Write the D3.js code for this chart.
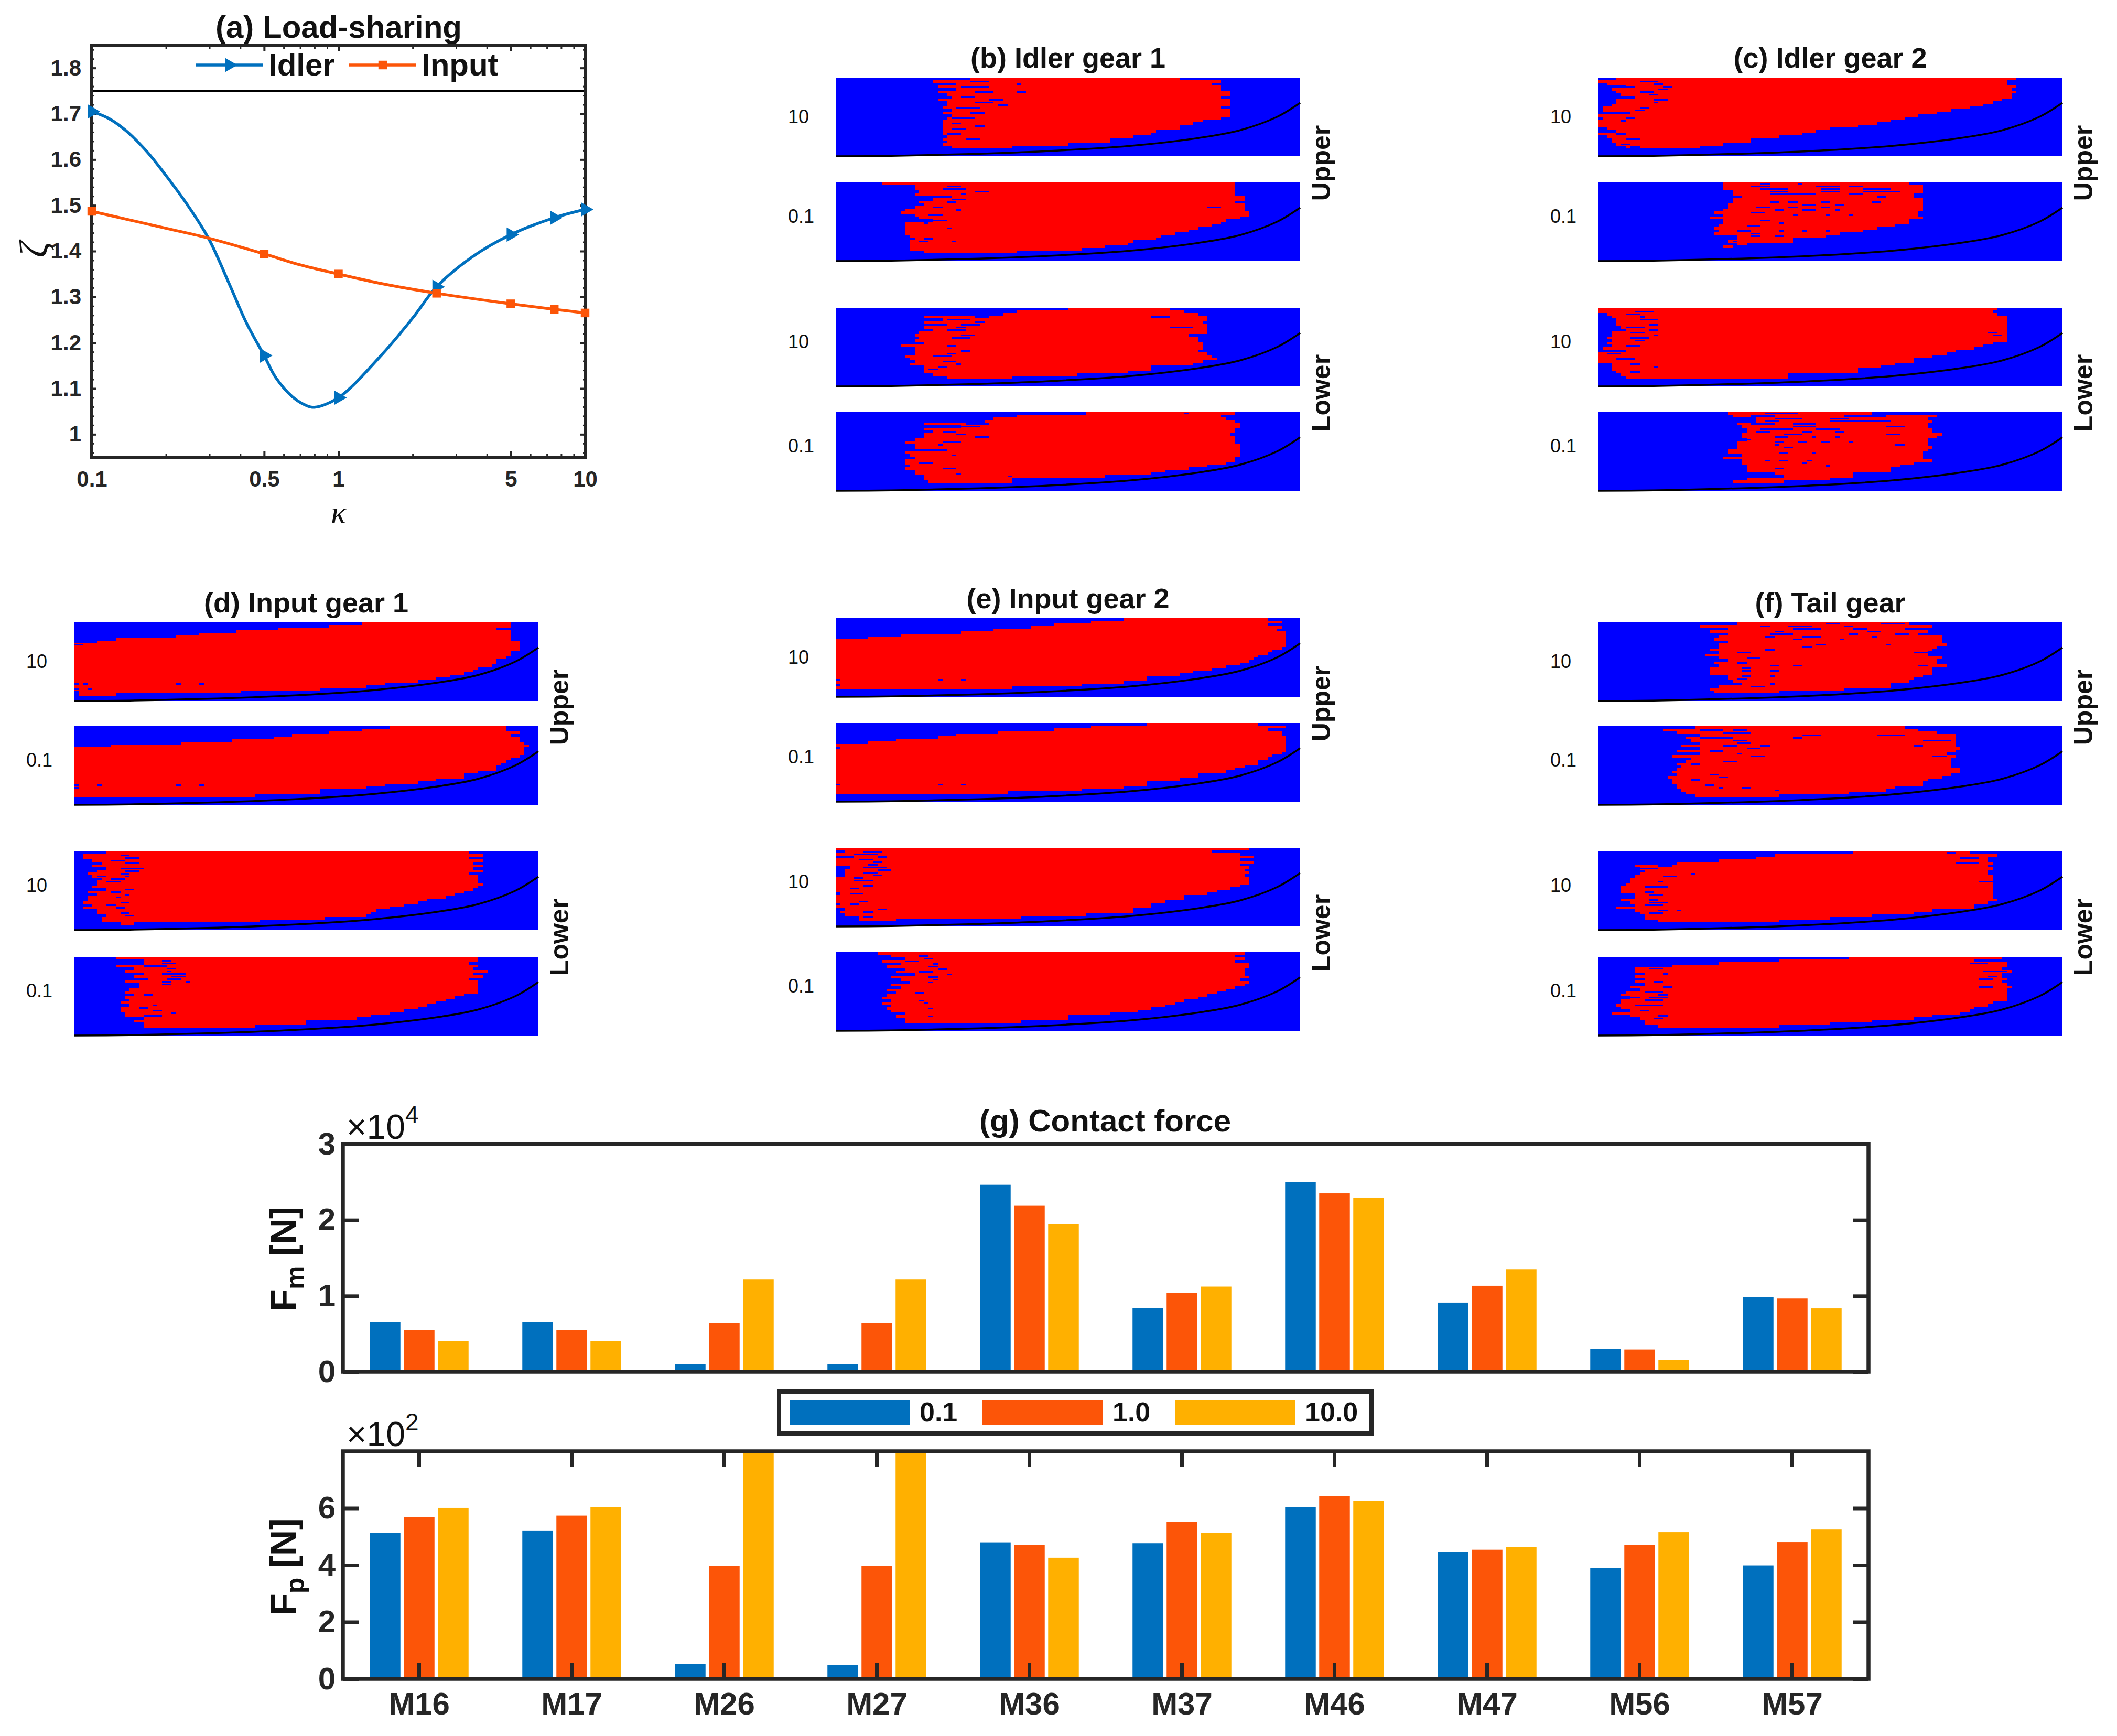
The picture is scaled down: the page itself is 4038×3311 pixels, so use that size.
<!DOCTYPE html>
<html>
<head>
<meta charset="utf-8">
<script src="https://cdn.jsdelivr.net/npm/d3@7"></script>
<style>
  body { margin: 0; background: #fff; }
  text { font-family: "Liberation Sans", Arial, sans-serif; }
</style>
</head>
<body>
<svg id="chart" width="4038" height="3311"></svg>
<script>
// (a) load sharing
const kappaMarks = [0.1, 0.5, 1, 2.5, 5, 7.5, 10];
const kappaLabels = [0.1, 0.5, 1, 5, 10];
const idlerMarks = [1.705, 1.172, 1.08, 1.322, 1.436, 1.473, 1.491];
const inputMarks = [1.487, 1.394, 1.35, 1.308, 1.285, 1.273, 1.265];
// points, denser than the markers
const idlerCurveK = [0.1, 0.117, 0.137, 0.167, 0.2, 0.245, 0.298, 0.362, 0.424, 0.5, 0.557, 0.651, 0.74, 0.8, 1, 1.5, 2, 2.5, 3.5, 5, 7.5, 10];
const idlerCurveZ = [1.705, 1.69, 1.664, 1.618, 1.565, 1.5, 1.427, 1.327, 1.243, 1.172, 1.124, 1.082, 1.063, 1.059, 1.08, 1.174, 1.254, 1.322, 1.388, 1.436, 1.473, 1.491];
const inputCurveK = [0.1, 0.2, 0.3, 0.5, 0.7, 1, 1.5, 2.5, 5, 7.5, 10];
const inputCurveZ = [1.487, 1.45, 1.428, 1.394, 1.37, 1.35, 1.329, 1.308, 1.285, 1.273, 1.265];
const limitZ = 1.75;

// (b)-(f) contact maps: red span of each row in % of tooth length, top row first
const b1Start = [29,21,26,22,26,22,24,25,22,24,24,23,25,23,25,24,23,23,23,23,23,23,24,23,24,23,25];
const b1End = [74,83,81,83,83,85,85,83,85,85,85,83,85,85,85,83,79,77,74,74,69,68,64,59,59,50,38];
const b1Holes = [[1,29,33],[3,27,33],[5,30,34],[7,27,30],[8,33,36],[9,30,34],[10,35,37],[11,26,31],[13,29,32],[15,25,30],[17,25,27],[18,30,32],[19,25,28],[21,24,27],[23,28,31],[2,39,40],[5,39,41]];
const b2Start = [10,17,17,18,17,19,21,18,19,17,15,14,17,18,21,15,15,15,15,15,16,17,16,16,16,16,19];
const b2End = [86,86,86,86,86,88,88,86,88,88,88,89,89,87,84,83,81,78,76,73,70,69,64,63,58,53,39];
const b2Holes = [[1,24,27],[2,23,28],[3,30,33],[4,27,28],[5,19,25],[6,25,28],[7,24,26],[9,21,23],[9,80,83],[10,26,27],[12,20,23],[14,21,24],[15,19,20],[17,24,25],[21,19,21],[22,18,20],[22,25,26]];
const b3Start = [50,39,36,19,23,19,24,19,21,18,17,18,17,19,14,17,17,17,15,16,17,16,19,19,19,21,24];
const b3End = [72,75,78,80,80,79,80,80,80,80,76,78,78,79,79,79,78,80,81,82,79,77,68,68,63,52,38];
const b3Holes = [[3,30,33],[3,68,72],[4,24,29],[5,30,32],[6,27,31],[7,26,28],[7,72,77],[8,24,28],[10,27,30],[11,25,29],[12,78,79],[14,24,26],[16,27,29],[17,24,26],[18,21,25],[20,23,26],[21,26,27],[22,22,24],[23,20,22]];
const b4Start = [54,39,34,32,19,27,19,21,19,19,17,15,17,17,19,15,16,17,15,15,16,15,17,17,19,19,20];
const b4End = [86,83,84,86,87,87,86,86,85,86,86,86,87,87,87,87,87,86,86,84,80,76,71,68,58,38,38];
const b4Holes = [[0,75,76],[3,26,30],[4,28,33],[5,27,31],[7,23,26],[8,26,28],[9,30,33],[11,23,27],[12,22,23],[14,19,24],[16,25,26],[19,18,21],[21,23,26],[23,26,27],[24,37,38]];
const c1Start = [4,0,2,6,3,4,5,8,4,4,3,1,1,4,0,1,0,0,0,2,4,0,2,3,3,4,6];
const c1End = [90,88,88,90,89,90,89,89,87,85,83,80,76,73,69,66,63,60,56,50,47,44,39,33,33,27,22];
const c1Holes = [[1,9,13],[2,12,14],[3,5,8],[3,14,16],[4,13,15],[5,9,12],[6,11,13],[8,12,15],[9,12,13],[11,9,11],[12,8,10],[13,4,7],[15,6,8],[16,5,6],[21,4,6],[23,6,9],[25,5,7],[26,7,9]];
const c2Start = [27,27,27,29,29,31,29,29,28,28,27,25,27,24,27,27,26,25,26,25,30,30,28,30,27];
const c2End = [67,70,70,70,68,68,70,70,70,70,70,69,69,70,67,67,64,60,57,52,49,42,42,32,29];
const c2Holes = [[0,35,37],[0,43,44],[1,33,37],[1,47,52],[1,54,57],[2,35,41],[2,48,52],[2,57,63],[3,37,41],[3,48,52],[3,57,65],[4,37,47],[4,54,57],[5,60,62],[7,37,39],[7,41,43],[7,48,50],[7,59,61],[8,44,47],[8,51,53],[9,34,37],[9,41,43],[9,48,50],[10,38,40],[10,44,47],[10,51,52],[11,33,36],[12,42,43],[12,49,50],[12,54,55],[14,35,37],[15,39,40],[16,32,35],[18,30,33],[18,39,40],[18,44,45],[18,49,50],[19,33,35],[20,33,35],[20,38,40],[22,29,30]];
const c3Start = [0,0,2,3,4,4,4,5,6,3,3,2,3,2,3,1,2,0,0,0,0,3,3,3,4,5,6];
const c3End = [86,85,86,88,88,88,88,88,88,88,88,88,88,85,83,81,77,75,72,68,68,64,61,56,56,41,41];
const c3Holes = [[1,8,12],[2,6,9],[3,9,10],[4,9,13],[6,11,13],[7,6,10],[8,11,13],[9,7,10],[10,12,13],[11,7,11],[12,8,10],[14,6,9],[16,1,6],[17,2,5],[19,4,8],[21,7,9],[22,12,13],[24,7,9],[9,84,86],[10,85,87]];
const c4Start = [28,29,34,34,30,31,32,32,31,31,32,30,30,30,28,28,31,27,31,31,32,32,32,38,40,32,29];
const c4End = [59,73,71,72,71,71,72,72,74,73,71,71,71,72,71,70,70,70,72,68,65,63,63,55,55,50,40];
const c4Holes = [[0,36,43],[1,33,38],[1,53,62],[2,38,44],[2,50,54],[3,36,39],[3,50,63],[4,33,38],[4,42,47],[5,62,66],[5,42,47],[6,35,42],[6,47,52],[7,34,37],[7,44,46],[7,51,53],[8,40,44],[8,62,65],[9,38,41],[9,46,47],[9,51,52],[10,30,33],[11,38,40],[11,43,45],[11,48,50],[11,54,55],[12,38,39],[12,64,66],[13,40,42],[15,39,41],[15,46,47],[18,36,37],[18,39,41],[18,45,46],[19,44,45],[20,49,50],[21,38,40]];
const d1Start = [62,55,44,35,27,22,9,5,0,0,0,0,0,0,0,0,0,0,0,0,0,0,0,0,0,0,1,1];
const d1End = [94,94,91,94,94,94,94,96,96,96,96,94,94,93,91,91,90,87,86,84,81,78,74,67,63,53,36,9];
const d1Holes = [[8,0,2],[23,0,1],[23,2,3],[23,22,23],[23,27,28],[25,0,1],[25,3,4]];
const d2Start = [68,62,55,47,43,34,23,8,0,0,0,0,0,0,0,0,0,0,0,0,0,0,0,0,0,0,0];
const d2End = [93,95,96,94,96,96,97,98,97,97,97,96,94,93,92,91,91,87,84,84,78,74,67,63,53,53,39];
const d2Holes = [[22,0,1],[22,5,6],[22,22,23],[22,27,28],[23,0,1],[1,93,95]];
const d3Start = [7,2,2,4,6,4,7,5,3,4,6,5,5,4,7,3,5,3,3,2,4,2,5,5,7,6,6,10];
const d3End = [85,88,85,88,86,88,86,88,85,87,87,87,88,87,86,84,82,80,76,74,71,68,65,64,63,54,40,13];
const d3Holes = [[1,10,12],[2,11,14],[3,8,11],[4,11,14],[6,10,15],[7,11,14],[8,10,12],[9,5,7],[9,11,12],[10,8,11],[11,7,10],[14,11,13],[15,8,10],[16,11,12],[17,9,10],[19,10,12],[20,7,9],[21,9,11],[23,10,12],[24,11,13]];
const d4Start = [9,15,15,9,13,11,15,13,16,11,14,14,12,11,13,11,12,10,12,10,10,11,11,15,13,15,15];
const d4End = [87,87,85,87,86,89,86,88,85,87,87,87,87,87,84,82,80,78,76,74,71,68,64,61,50,50,39];
const d4Holes = [[1,19,21],[2,19,22],[3,15,20],[4,20,22],[5,20,21],[6,19,24],[7,21,24],[8,20,23],[9,19,21],[9,24,25],[10,19,21],[14,15,17],[18,17,18],[19,14,16],[20,17,19],[21,21,22],[22,15,19]];
const e1Start = [62,55,47,42,34,27,14,7,0,0,0,0,0,0,0,0,0,0,0,0,0,0,0,0,0,0,0];
const e1End = [93,96,93,96,95,97,97,97,97,97,97,96,94,93,91,90,89,87,84,81,77,74,67,67,62,53,38];
const e1Holes = [[23,0,1],[23,22,23],[23,27,28],[25,0,1],[2,93,95]];
const e2Start = [67,55,47,35,26,22,13,7,0,0,0,0,0,0,0,0,0,0,0,0,0,0,0,0,0,0,0];
const e2End = [91,97,93,96,96,97,97,97,97,97,97,96,94,93,91,91,88,86,84,78,78,74,67,67,62,53,37];
const e2Holes = [[23,0,1],[23,22,23],[23,27,28],[9,0,1]];
const e3Start = [0,2,0,4,0,0,0,3,2,2,2,0,0,0,0,0,0,1,0,0,0,1,0,2,1,2,5,5];
const e3End = [89,81,87,90,87,90,87,89,88,89,88,89,89,89,87,85,82,80,75,75,71,68,68,64,64,54,40,13];
const e3Holes = [[1,6,10],[2,4,9],[3,9,11],[4,5,8],[5,8,10],[6,7,9],[7,6,11],[8,9,12],[9,6,9],[10,8,10],[11,4,6],[12,4,8],[14,6,8],[15,3,5],[17,3,6],[20,5,7],[21,3,5],[23,9,11],[24,6,8],[26,6,8]];
const e4Start = [9,12,15,10,14,11,15,13,17,12,14,16,12,14,11,13,11,10,12,10,12,11,12,15,13,15,15];
const e4End = [88,86,88,86,89,89,88,88,88,89,87,89,88,86,84,82,80,78,75,73,71,68,65,59,50,50,40];
const e4Holes = [[1,18,20],[2,19,21],[3,15,18],[4,21,22],[5,20,22],[6,22,24],[7,18,21],[8,24,25],[9,20,22],[10,21,22],[11,20,21],[15,17,19],[18,18,19],[19,19,20],[21,20,21],[24,20,21]];
const f1Start = [30,22,28,24,28,26,25,28,26,26,24,26,23,26,28,25,26,24,24,24,28,28,29,31,26,24,25];
const f1End = [67,72,69,71,69,74,74,74,75,73,72,71,71,74,73,73,75,72,72,72,70,68,67,63,63,53,39];
const f1Holes = [[0,49,52],[0,61,66],[1,35,37],[1,41,46],[1,53,55],[2,42,48],[2,55,58],[2,66,70],[3,38,40],[3,58,61],[4,37,42],[4,54,56],[4,64,67],[5,36,38],[5,44,48],[5,59,60],[6,42,44],[6,52,53],[8,47,49],[8,62,63],[9,44,46],[10,36,38],[11,30,33],[11,68,71],[13,32,35],[15,30,32],[16,37,39],[16,42,44],[16,69,71],[17,31,33],[18,31,33],[18,37,39],[20,31,33],[20,37,38],[21,30,32],[23,37,38],[24,33,36]];
const f2Start = [21,14,17,22,19,20,22,18,22,17,22,16,20,19,17,18,17,16,17,15,16,16,17,17,18,19,21];
const f2End = [66,69,73,77,77,77,77,77,78,77,75,77,76,76,76,76,78,78,76,74,71,70,70,64,62,54,39];
const f2Holes = [[1,22,27],[1,29,32],[2,27,33],[3,44,48],[3,60,66],[4,22,29],[4,42,44],[5,29,32],[5,70,76],[6,30,33],[7,27,30],[7,35,37],[7,68,70],[8,32,35],[9,24,27],[10,30,31],[11,33,36],[11,72,75],[13,27,30],[14,20,22],[18,24,26],[19,26,28],[20,20,22],[22,23,25],[23,26,27],[23,31,33],[24,38,39]];
const f3Start = [55,38,34,26,17,8,9,10,9,8,7,7,6,5,5,5,8,8,5,7,8,4,8,9,10,10,13];
const f3End = [80,86,84,84,85,84,85,84,84,85,85,85,85,85,85,85,85,85,86,84,81,81,72,68,59,50,39];
const f3Holes = [[0,75,77],[2,78,82],[4,77,82],[5,13,16],[6,9,13],[8,20,21],[9,14,17],[11,13,14],[11,82,85],[13,10,15],[15,10,12],[16,11,14],[18,11,13],[19,11,15],[20,10,14],[22,13,15],[22,17,18],[23,11,14]];
const f4Start = [54,39,26,16,8,8,10,8,10,8,10,7,9,6,5,7,5,5,4,5,7,3,7,9,10,10,13];
const f4End = [87,81,88,88,87,89,87,87,88,87,88,89,88,88,88,88,88,85,84,81,80,78,72,68,59,50,39];
const f4Holes = [[2,80,84],[4,11,14],[5,83,88],[6,14,15],[7,84,86],[8,82,85],[9,12,14],[11,14,16],[11,82,85],[13,10,14],[14,13,15],[15,7,9],[15,11,15],[16,10,14],[18,8,10],[18,10,14],[20,9,11],[22,13,15],[23,12,14]];

// black curve in every map: height in % of the map along tooth length
const rootX = [0, 12, 23, 35, 47, 63, 79, 87, 95, 100];
const rootY = [0, 0.5, 2, 4, 7, 13, 24, 33, 50, 68];
const rowIds = d3.range(30);

// (g) contact force
const meshes = ["M16", "M17", "M26", "M27", "M36", "M37", "M46", "M47", "M56", "M57"];
const loads = ["0.1", "1.0", "10.0"];
const fm01 = [0.651, 0.651, 0.103, 0.103, 2.463, 0.84, 2.5, 0.906, 0.304, 0.982];
const fm10 = [0.548, 0.548, 0.64, 0.64, 2.187, 1.036, 2.35, 1.134, 0.293, 0.966];
const fm100 = [0.407, 0.407, 1.215, 1.215, 1.943, 1.123, 2.295, 1.346, 0.157, 0.836];
const fp01 = [5.14, 5.2, 0.52, 0.49, 4.8, 4.77, 6.03, 4.45, 3.89, 3.99];
const fp10 = [5.68, 5.74, 3.97, 3.97, 4.71, 5.52, 6.43, 4.54, 4.71, 4.81];
const fp100 = [6.01, 6.04, 8, 8, 4.26, 5.14, 6.26, 4.64, 5.16, 5.25];

const dark = "#262626";
const blue = "#0070BE";
const orange = "#FC5508";
const yellow = "#FFB000";
const svg = d3.select("#chart");
svg.append("rect").attr("width", 4038).attr("height", 3311).attr("fill", "#fff");

function styleAxis(g, size) {
  g.attr("font-family", "Liberation Sans, Arial, sans-serif")
    .attr("font-size", size).attr("font-weight", "bold")
    .style("color", dark);
  g.select(".domain").remove();
}

function addText(x, y, str, size, weight, anchor) {
  return svg.append("text").attr("x", x).attr("y", y).text(str)
    .attr("font-size", size).attr("font-weight", weight || "bold")
    .attr("text-anchor", anchor || "middle").attr("fill", "#111");
}

// ---------- panel (a) ----------
const aBox = { left: 175, right: 1116, top: 86, bottom: 872 };
const xLog = d3.scaleLog().domain([0.1, 10]).range([aBox.left, aBox.right]);
const yZeta = d3.scaleLinear().domain([0.95, 1.85]).range([aBox.bottom, aBox.top]);

const aMinorX = xLog.ticks();
const aMinorY = d3.range(0.96, 1.85, 0.02);
const aMajorY = [1, 1.1, 1.2, 1.3, 1.4, 1.5, 1.6, 1.7, 1.8];

[[d3.axisBottom, aBox.bottom, 1], [d3.axisTop, aBox.top, 0]].forEach(([ax, y, lab]) => {
  svg.append("g").attr("transform", `translate(0,${y})`)
    .call(ax(xLog).tickValues(aMinorX).tickSize(-7).tickFormat(""))
    .call(g => styleAxis(g, 42)).selectAll("line").attr("stroke-width", 3);
  svg.append("g").attr("transform", `translate(0,${y})`)
    .call(ax(xLog).tickValues(kappaLabels).tickSize(-11).tickPadding(26)
      .tickFormat(d => lab ? String(d) : ""))
    .call(g => styleAxis(g, 42)).selectAll("line").attr("stroke-width", 4);
});
[[d3.axisLeft, aBox.left, 1], [d3.axisRight, aBox.right, 0]].forEach(([ax, x, lab]) => {
  svg.append("g").attr("transform", `translate(${x},0)`)
    .call(ax(yZeta).tickValues(aMinorY).tickSize(-4).tickFormat(""))
    .call(g => styleAxis(g, 42)).selectAll("line").attr("stroke-width", 3);
  svg.append("g").attr("transform", `translate(${x},0)`)
    .call(ax(yZeta).tickValues(aMajorY).tickSize(-9).tickPadding(20)
      .tickFormat(d => lab ? String(d) : ""))
    .call(g => styleAxis(g, 42)).selectAll("line").attr("stroke-width", 4);
});

svg.append("line").attr("x1", aBox.left).attr("x2", aBox.right)
  .attr("y1", yZeta(limitZ)).attr("y2", yZeta(limitZ))
  .attr("stroke", "#000").attr("stroke-width", 4);

const curveLine = d3.line().x(d => xLog(d[0])).y(d => yZeta(d[1])).curve(d3.curveCatmullRom.alpha(0.5));
svg.append("path").attr("d", curveLine(d3.zip(idlerCurveK, idlerCurveZ)))
  .attr("fill", "none").attr("stroke", blue).attr("stroke-width", 5.5);
svg.append("path").attr("d", curveLine(d3.zip(inputCurveK, inputCurveZ)))
  .attr("fill", "none").attr("stroke", orange).attr("stroke-width", 5.5);

const triangle = d3.symbol().type(d3.symbolTriangle).size(330);
const square = d3.symbol().type(d3.symbolSquare).size(270);
svg.append("rect").attr("x", aBox.left).attr("y", aBox.top)
  .attr("width", aBox.right - aBox.left).attr("height", aBox.bottom - aBox.top)
  .attr("fill", "none").attr("stroke", dark).attr("stroke-width", 6);
svg.selectAll(".m-idler").data(d3.zip(kappaMarks, idlerMarks)).enter().append("path")
  .attr("d", triangle).attr("fill", blue)
  .attr("transform", d => `translate(${xLog(d[0])},${yZeta(d[1])}) rotate(90)`);
svg.selectAll(".m-input").data(d3.zip(kappaMarks, inputMarks)).enter().append("path")
  .attr("d", square).attr("fill", orange)
  .attr("transform", d => `translate(${xLog(d[0])},${yZeta(d[1])})`);

// legend of (a)
svg.append("line").attr("x1", 373).attr("x2", 501).attr("y1", 124).attr("y2", 124)
  .attr("stroke", blue).attr("stroke-width", 5.5);
svg.append("path").attr("d", triangle).attr("fill", blue).attr("transform", "translate(437,124) rotate(90)");
addText(512, 144, "Idler", 60, "bold", "start");
svg.append("line").attr("x1", 666).attr("x2", 793).attr("y1", 124).attr("y2", 124)
  .attr("stroke", orange).attr("stroke-width", 5.5);
svg.append("path").attr("d", square).attr("fill", orange).attr("transform", "translate(730,124)");
addText(804, 144, "Input", 60, "bold", "start");

addText(646, 72, "(a) Load-sharing", 60);
addText(646, 998, "κ", 62, "normal").attr("font-style", "italic").style("font-family", "Liberation Serif, serif");
addText(0, 0, "ζ", 76, "normal").attr("font-style", "italic").style("font-family", "Liberation Serif, serif")
  .attr("transform", "translate(90,476) rotate(-90)");

// ---------- panels (b)-(f) ----------
const mapW = 886, mapH = 150;
const xTooth = d3.scaleLinear().domain([0, 100]).range([0, mapW]);
const yRow = d3.scaleBand().domain(rowIds).range([0, mapH]);
const yRoot = d3.scaleLinear().domain([0, 100]).range([mapH, 0]);
const rootLine = d3.line().x(d => xTooth(d[0])).y(d => yRoot(d[1])).curve(d3.curveCatmullRom);

const panels = [
  { title: "(b) Idler gear 1", left: 1594, tops: [148, 348, 587, 786], maps: [[b1Start, b1End, b1Holes], [b2Start, b2End, b2Holes], [b3Start, b3End, b3Holes], [b4Start, b4End, b4Holes]] },
  { title: "(c) Idler gear 2", left: 3048, tops: [148, 348, 587, 786], maps: [[c1Start, c1End, c1Holes], [c2Start, c2End, c2Holes], [c3Start, c3End, c3Holes], [c4Start, c4End, c4Holes]] },
  { title: "(d) Input gear 1", left: 141, tops: [1187, 1385, 1624, 1825], maps: [[d1Start, d1End, d1Holes], [d2Start, d2End, d2Holes], [d3Start, d3End, d3Holes], [d4Start, d4End, d4Holes]] },
  { title: "(e) Input gear 2", left: 1594, tops: [1179, 1379, 1617, 1816], maps: [[e1Start, e1End, e1Holes], [e2Start, e2End, e2Holes], [e3Start, e3End, e3Holes], [e4Start, e4End, e4Holes]] },
  { title: "(f) Tail gear", left: 3048, tops: [1187, 1385, 1624, 1825], maps: [[f1Start, f1End, f1Holes], [f2Start, f2End, f2Holes], [f3Start, f3End, f3Holes], [f4Start, f4End, f4Holes]] }
];
const mapLabels = ["10", "0.1", "10", "0.1"];
// label centres sit a little above the middle of the map, except the first
const mapLabelDrop = [74, 64, 64, 64];

panels.forEach(p => {
  addText(p.left + mapW / 2, p.tops[0] - 19, p.title, 54);
  p.maps.forEach(([starts, ends, holes], i) => {
    const g = svg.append("g").attr("transform", `translate(${p.left},${p.tops[i]})`)
      .attr("shape-rendering", "crispEdges");
    g.append("rect").attr("width", mapW).attr("height", mapH).attr("fill", "#0000FF");
    g.selectAll(".red").data(starts).enter().append("rect")
      .attr("x", d => xTooth(d))
      .attr("y", (d, r) => yRow(r))
      .attr("width", (d, r) => xTooth(ends[r]) - xTooth(d))
      .attr("height", yRow.bandwidth())
      .attr("fill", "#FF0000");
    g.selectAll(".hole").data(holes).enter().append("rect")
      .attr("x", d => xTooth(d[1]))
      .attr("y", d => yRow(d[0]) + yRow.bandwidth() * 0.2)
      .attr("width", d => xTooth(d[2]) - xTooth(d[1]))
      .attr("height", yRow.bandwidth() * 0.6)
      .attr("fill", "#0000FF");
    g.append("path").attr("d", rootLine(d3.zip(rootX, rootY)))
      .attr("fill", "none").attr("stroke", "#000").attr("stroke-width", 3.5)
      .attr("shape-rendering", "auto");
    addText(p.left - 91, p.tops[i] + mapLabelDrop[i] + 13, mapLabels[i], 36, "normal", "start");
  });
  const sideX = p.left + mapW + 57;
  const upperY = (p.tops[0] + p.tops[1] + mapH) / 2 - 12;
  const lowerY = (p.tops[2] + p.tops[3] + mapH) / 2 - 12;
  addText(0, 0, "Upper", 50).attr("transform", `translate(${sideX},${upperY}) rotate(-90)`);
  addText(0, 0, "Lower", 50).attr("transform", `translate(${sideX},${lowerY}) rotate(-90)`);
});

// ---------- panel (g) ----------
const gLeft = 654, gRight = 3564;
const xMesh = d3.scaleBand().domain(meshes).range([gLeft, gRight]);
const xLoad = d3.scaleBand().domain(loads).range([-94.25, 94.25]).paddingInner(0.1);
const loadColor = d3.scaleOrdinal().domain(loads).range([blue, orange, yellow]);

function barChart(cfg) {
  const y = d3.scaleLinear().domain(cfg.domain).range([cfg.bottom, cfg.top]);
  cfg.series.forEach((vals, s) => {
    svg.selectAll(".bar" + cfg.id + s).data(vals).enter().append("rect")
      .attr("x", (d, i) => xMesh(meshes[i]) + xMesh.bandwidth() / 2 + xLoad(loads[s]))
      .attr("y", d => y(d))
      .attr("width", xLoad.bandwidth())
      .attr("height", d => y(0) - y(d))
      .attr("fill", loadColor(loads[s]));
  });
  // y ticks, both sides
  svg.append("g").attr("transform", `translate(${gLeft},0)`)
    .call(d3.axisLeft(y).tickValues(cfg.ticks).tickSize(-30).tickPadding(14).tickFormat(d3.format("d")))
    .call(g => styleAxis(g, 60)).selectAll("line").attr("stroke-width", 7);
  svg.append("g").attr("transform", `translate(${gRight},0)`)
    .call(d3.axisRight(y).tickValues(cfg.ticks).tickSize(-30).tickFormat(""))
    .call(g => styleAxis(g, 60)).selectAll("line").attr("stroke-width", 7);
  if (cfg.xTicks) {
    svg.append("g").attr("transform", `translate(0,${cfg.bottom})`)
      .call(d3.axisBottom(xMesh).tickSize(-30).tickPadding(25))
      .call(g => styleAxis(g, 60)).selectAll("line").attr("stroke-width", 7);
    svg.append("g").attr("transform", `translate(0,${cfg.top})`)
      .call(d3.axisTop(xMesh).tickSize(-30).tickFormat(""))
      .call(g => styleAxis(g, 60)).selectAll("line").attr("stroke-width", 7);
  }
  svg.append("rect").attr("x", gLeft).attr("y", cfg.top)
    .attr("width", gRight - gLeft).attr("height", cfg.bottom - cfg.top)
    .attr("fill", "none").attr("stroke", dark).attr("stroke-width", 7.5);

  const mult = addText(661, cfg.top - 10, "×10", 66, "normal", "start");
  mult.append("tspan").text(cfg.power).attr("font-size", 46).attr("dy", -30);

  const lab = addText(0, 0, "F", 68).attr("transform", `translate(564,${cfg.labelY}) rotate(-90)`);
  lab.append("tspan").text(cfg.sub).attr("font-size", 50).attr("dy", 16);
  lab.append("tspan").text(" [N]").attr("dy", -16);
}

addText(2108, 2158, "(g) Contact force", 60);
barChart({ id: "m", domain: [0, 3], top: 2182, bottom: 2616, ticks: [0, 1, 2, 3], series: [fm01, fm10, fm100], power: "4", sub: "m", labelY: 2401, xTicks: false });
barChart({ id: "p", domain: [0, 8], top: 2768, bottom: 3202, ticks: [0, 2, 4, 6], series: [fp01, fp10, fp100], power: "2", sub: "p", labelY: 2988, xTicks: true });

// legend of (g)
svg.append("rect").attr("x", 1486).attr("y", 2654).attr("width", 1130).attr("height", 80)
  .attr("fill", "#fff").attr("stroke", dark).attr("stroke-width", 8);
const legendX = [1507, 1874, 2242];
const legendW = [228, 229, 228];
loads.forEach((l, i) => {
  svg.append("rect").attr("x", legendX[i]).attr("y", 2671).attr("width", legendW[i]).attr("height", 46)
    .attr("fill", loadColor(l));
  addText(legendX[i] + legendW[i] + 19, 2711, l, 52, "bold", "start");
});
</script>
</body>
</html>
